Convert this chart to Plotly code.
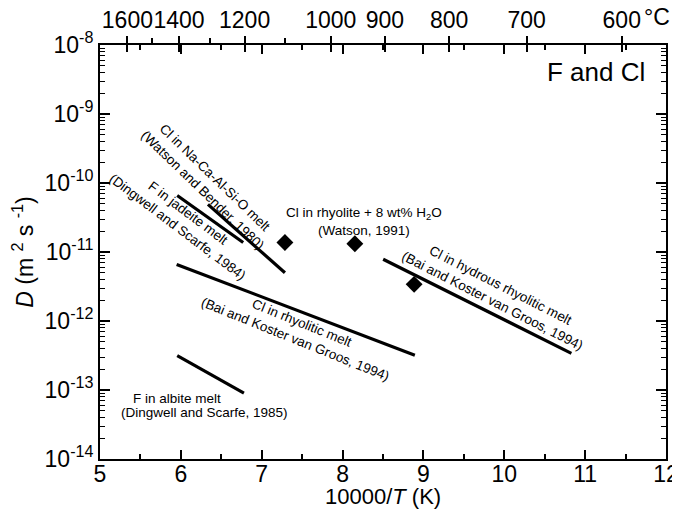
import plotly.graph_objects as go

# ---- data ----
wb_x = [6.335, 7.287]
wb_D = [4.9e-11, 5.0e-12]          # Cl in Na-Ca-Al-Si-O melt (Watson & Bender 1980)
jad_x = [5.955, 6.771]
jad_D = [6.6e-11, 1.37e-11]        # F in jadeite melt (Dingwell & Scarfe 1984)
rhy_x = [5.948, 8.894]
rhy_D = [6.6e-12, 3.2e-13]         # Cl in rhyolitic melt (Bai & Koster van Groos 1994)
hyd_x = [8.502, 10.83]
hyd_D = [7.85e-12, 3.4e-13]        # Cl in hydrous rhyolitic melt
alb_x = [5.955, 6.780]
alb_D = [3.15e-13, 9.0e-14]        # F in albite melt (Dingwell & Scarfe 1985)
# diamonds: Cl in rhyolite + 8 wt% H2O (Watson 1991)
pts_x = [7.287, 8.152, 8.885]
pts_D = [1.37e-11, 1.32e-11, 3.4e-12]

# axes
x_range = [5, 12]
x_ticks = [5, 6, 7, 8, 9, 10, 11, 12]
y_exponents = [-14, -13, -12, -11, -10, -9, -8]
top_major_C = [1600, 1400, 1200, 1000, 900, 800, 700, 600]
top_minor_C = [1500, 1300, 1100]

FONT = "Liberation Sans, Arial, Helvetica, sans-serif"


def c_to_x(c):
    return 10000.0 / (c + 273.15)


fig = go.Figure()
LW = 3.2
for xs, ds in [(wb_x, wb_D), (jad_x, jad_D), (rhy_x, rhy_D), (hyd_x, hyd_D), (alb_x, alb_D)]:
    fig.add_trace(go.Scatter(x=xs, y=ds, mode="lines",
                             line=dict(color="black", width=LW),
                             showlegend=False, hoverinfo="skip"))
fig.add_trace(go.Scatter(x=pts_x, y=pts_D, mode="markers",
                         marker=dict(symbol="diamond", size=13, color="black"),
                         showlegend=False, hoverinfo="skip"))
for ax in ["x2", "x3"]:
    fig.add_trace(go.Scatter(x=x_range, y=[1e-14, 1e-14], xaxis=ax, yaxis="y",
                             mode="none", showlegend=False, hoverinfo="skip"))

tickfont = dict(family=FONT, size=23, color="black")

# the page body adds an 8 px offset, so margins are shifted to compensate
fig.update_layout(
    width=680, height=510,
    margin=dict(l=92, r=22, t=37, b=59, autoexpand=False),
    paper_bgcolor="white", plot_bgcolor="white",
    font=dict(family=FONT, color="black"),
    xaxis=dict(range=x_range, tickvals=x_ticks, ticktext=[str(v) for v in x_ticks],
               ticks="inside", ticklen=9, tickwidth=1.5, tickcolor="black",
               showline=True, linewidth=2, linecolor="black", mirror="ticks",
               showgrid=False, zeroline=False, tickfont=tickfont, tickangle=0,
               automargin=False, ticklabelstandoff=-7,
               minor=dict(dtick=0.5, tick0=5, ticks="inside", ticklen=5, tickwidth=1.5,
                          tickcolor="black", showgrid=False)),
    xaxis2=dict(range=x_range, overlaying="x", side="top", anchor="y",
                tickvals=[c_to_x(c) for c in top_major_C],
                ticktext=[str(c) for c in top_major_C],
                ticks="outside", ticklen=8, tickwidth=2, tickcolor="black",
                showline=False, showgrid=False, zeroline=False, tickfont=tickfont,
                tickangle=0, automargin=False, ticklabelstandoff=-1,
                minor=dict(tickvals=[c_to_x(c) for c in top_minor_C], ticks="outside",
                           ticklen=6, tickwidth=1.5, tickcolor="black", showgrid=False)),
    xaxis3=dict(range=x_range, overlaying="x", side="top", anchor="y",
                tickvals=[c_to_x(c) for c in top_major_C],
                ticktext=["" for c in top_major_C],
                ticks="inside", ticklen=7, tickwidth=2, tickcolor="black",
                showline=False, showgrid=False, zeroline=False, showticklabels=False,
                automargin=False),
    yaxis=dict(type="log", range=[-14, -8],
               tickvals=[10.0 ** e for e in y_exponents],
               ticktext=["10<sup>%d</sup>" % e for e in y_exponents],
               ticks="inside", ticklen=10, tickwidth=2, tickcolor="black",
               showline=True, linewidth=2, linecolor="black", mirror="ticks",
               showgrid=False, zeroline=False, tickfont=tickfont, automargin=False,
               minor=dict(dtick="D1", ticks="inside", ticklen=5, tickwidth=1.2,
                          tickcolor="black", showgrid=False),
               title=dict(text="<i>D</i> (m <sup>2</sup> s <sup>-1</sup>)",
                          font=dict(family=FONT, size=23), standoff=9)),
)

# x-axis title as an annotation so it sits fully inside the page
fig.add_annotation(text="10000/<i>T</i> (K)", x=0.5, y=-0.09, xref="paper", yref="paper",
                   xanchor="center", yanchor="middle", showarrow=False,
                   font=dict(family=FONT, size=22, color="black"))

afont = dict(family=FONT, size=13.5, color="black")
annots = [
    ("Cl in Na-Ca-Al-Si-O melt<br>(Watson and Bender, 1980)", 6.347, -10.023, 44),
    ("F in jadeite melt<br>(Dingwell and Scarfe, 1984)", 6.026, -10.547, 37),
    ("Cl in rhyolite + 8 wt% H<sub>2</sub>O<br>(Watson, 1991)", 8.263, -10.562, 0),
    ("Cl in rhyolitic melt<br>(Bai and Koster van Groos, 1994)", 7.46, -12.148, 22),
    ("Cl in hydrous rhyolitic melt<br>(Bai and Koster van Groos, 1994)", 9.907, -11.595, 27),
    ("F in albite melt", 5.952, -13.124, 0),
    ("(Dingwell and Scarfe, 1985)", 6.298, -13.327, 0),
]
for txt, ax_, ay_, ang in annots:
    fig.add_annotation(text=txt, x=ax_, y=ay_, xref="x", yref="y", showarrow=False,
                       textangle=ang, font=afont, align="center")

fig.add_annotation(text="F and Cl", x=11.131, y=-8.393, xref="x", yref="y", showarrow=False,
                   font=dict(family=FONT, size=26, color="black"))
fig.add_annotation(text="°C", x=0.958, y=1.068, xref="paper", yref="paper",
                   xanchor="left", yanchor="middle", showarrow=False, font=tickfont)

fig.write_html("out.html")
